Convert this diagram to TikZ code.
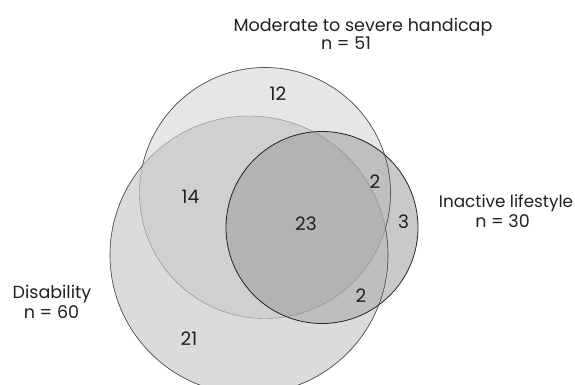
\documentclass[tikz,border=0pt]{standalone}
\usepackage{fontspec}
\setmainfont{Poppins}
\definecolor{txt}{HTML}{231F20}
\definecolor{cD}{HTML}{DBDBDD}
\definecolor{cM}{HTML}{E6E6E8}
\definecolor{cMD}{HTML}{D0D0D2}
\definecolor{cI}{HTML}{C9C9CB}
\definecolor{cMI}{HTML}{BFBFC1}
\definecolor{cDI}{HTML}{BEBEC0}
\definecolor{cMDI}{HTML}{B3B3B5}
\definecolor{edge}{HTML}{4A4A4A}
\definecolor{edgelight}{HTML}{8E8E90}
\begin{document}
\begin{tikzpicture}[x=1pt,y=-1pt,
  lbl/.style={font=\fontsize{17.5}{20}\selectfont, text=txt, inner sep=0pt, anchor=base},
  num/.style={font=\fontsize{18.5}{20}\selectfont, text=txt, inner sep=0pt},
  outerline/.style={draw=edge, line width=0.55pt},
  innerline/.style={draw=edgelight, line width=0.45pt},
  iline/.style={draw=black!85, line width=0.8pt}]
\useasboundingbox (0,0) rectangle (575,385);
\coordinate (Dc) at (249,255);
\coordinate (Mc) at (265,193);
\coordinate (Ic) at (322,227.5);
% fills
\fill[cD] (Dc) circle (139pt);
\fill[cM] (Mc) circle (125.5pt);
\begin{scope}
  \clip (Mc) circle (125.5pt);
  \fill[cMD] (Dc) circle (139pt);
\end{scope}
\fill[cI] (Ic) circle (96pt);
\begin{scope}
  \clip (Ic) circle (96pt);
  \fill[cMI] (Mc) circle (125.5pt);
  \fill[cDI] (Dc) circle (139pt);
  \clip (Mc) circle (125.5pt);
  \fill[cMDI] (Dc) circle (139pt);
\end{scope}
% inner outlines
\draw[innerline] (Dc) circle (139pt);
\draw[innerline] (Mc) circle (125.5pt);
% outer outlines
\begin{scope}[even odd rule]
  \clip (-20,-20) rectangle (600,420) (Dc) circle (139pt);
  \draw[outerline] (Mc) circle (125.5pt);
\end{scope}
\begin{scope}[even odd rule]
  \clip (-20,-20) rectangle (600,420) (Mc) circle (125.5pt);
  \draw[outerline] (Dc) circle (139pt);
\end{scope}
\draw[iline] (Ic) circle (96pt);
% labels
\node[lbl] (mod) at (363,31.5) {Moderate to severe handicap};
\node[lbl] (modn) at (346,50) {n = 51};
\node[lbl, font=\fontsize{16.8}{20}\selectfont] (ina) at (506,207) {Inactive lifestyle};
\node[lbl] (inan) at (502.5,227) {n = 30};
\node[lbl] (dis) at (52,298) {Disability};
\node[lbl] (disn) at (51.5,318) {n = 60};
% numbers
\node[num] (n12) at (278,94) {12};
\node[num] (n14) at (190.5,196.5) {14};
\node[num] (n23) at (306,224) {23};
\node[num] (n2a) at (375,181.5) {2};
\node[num] (n3) at (403.5,222) {3};
\node[num] (n2b) at (361,295.5) {2};
\node[num] (n21) at (189,339) {21};
\end{tikzpicture}
\end{document}
